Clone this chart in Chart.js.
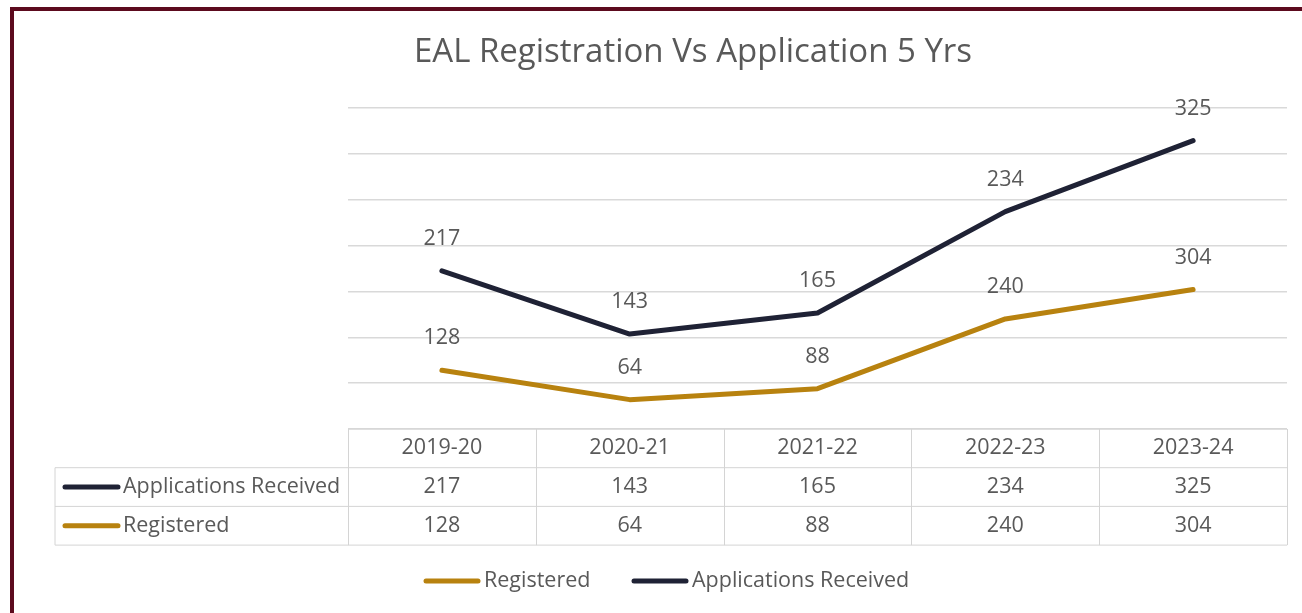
<!DOCTYPE html>
<html>
<head>
<meta charset="utf-8">
<script src="https://cdn.jsdelivr.net/npm/chart.js@4/dist/chart.umd.min.js"></script>
<style>
  html, body { margin:0; padding:0; background:#fff; overflow:hidden; }
  #frame { position:absolute; left:10px; top:7px; width:1400px; height:700px; border:4px solid #5c0a1e; }
  #wrap { position:absolute; left:0; top:0; width:1302px; height:613px; }
</style>
</head>
<body>
<div id="frame"></div>
<div id="wrap"><canvas id="chart"></canvas></div>
<script>
// data
const years = ['2019-20', '2020-21', '2021-22', '2022-23', '2023-24'];
const applications = [217, 143, 165, 234, 325];
const registered = [128, 64, 88, 240, 304];

const NAVY = '#1f2235';
const GOLD = '#b8820f';
const TXT = '#595959';
const FONT = '"Open Sans", sans-serif';

// title, data labels, data table and legend (Excel style)
const extras = {
    id: 'extras',
    afterDatasetsDraw(chart) {
        const ctx = chart.ctx;
        const area = chart.chartArea;
        ctx.save();

        // title
        ctx.fillStyle = TXT;
        ctx.font = '33px ' + FONT;
        ctx.textAlign = 'center';
        ctx.textBaseline = 'middle';
        ctx.fillText('EAL Registration Vs Application 5 Yrs', 693, 53);

        // labels above points (raw values, line is stacked)
        ctx.font = '21.5px ' + FONT;
        chart.data.datasets.forEach((ds, i) => {
            chart.getDatasetMeta(i).data.forEach((pt, j) => {
                ctx.fillText(String(ds.data[j]), pt.x, pt.y - 32);
            });
        });

        // data table
        const colW = (area.right - area.left) / years.length;
        const top = area.bottom, rowH = 38.7, left = 55;
        ctx.strokeStyle = '#d4d4d4';
        ctx.lineWidth = 1;
        ctx.beginPath();
        ctx.moveTo(area.left, top); ctx.lineTo(area.right, top);
        ctx.moveTo(left, top + rowH); ctx.lineTo(area.right, top + rowH);
        ctx.moveTo(left, top + rowH * 2); ctx.lineTo(area.right, top + rowH * 2);
        ctx.moveTo(left, top + rowH * 3); ctx.lineTo(area.right, top + rowH * 3);
        ctx.moveTo(left, top + rowH); ctx.lineTo(left, top + rowH * 3);
        for (let k = 0; k <= years.length; k++) {
            const x = Math.round(area.left + k * colW) + 0.5;
            ctx.moveTo(x, top); ctx.lineTo(x, top + rowH * 3);
        }
        ctx.stroke();

        const rows = [
            { name: 'Applications Received', vals: applications, color: NAVY },
            { name: 'Registered', vals: registered, color: GOLD }
        ];
        ctx.fillStyle = TXT;
        ctx.textAlign = 'center';
        years.forEach((y, k) => ctx.fillText(y, area.left + (k + 0.5) * colW, top + rowH / 2));
        rows.forEach((r, ri) => {
            const cy = top + rowH * (ri + 1.5);
            ctx.strokeStyle = r.color;
            ctx.lineWidth = 5;
            ctx.lineCap = 'round';
            ctx.beginPath();
            ctx.moveTo(65, cy); ctx.lineTo(118, cy);
            ctx.stroke();
            ctx.fillStyle = TXT;
            ctx.textAlign = 'left';
            ctx.fillText(r.name, 123, cy);
            ctx.textAlign = 'center';
            r.vals.forEach((v, k) => ctx.fillText(String(v), area.left + (k + 0.5) * colW, cy));
        });

        // legend
        const leg = [
            { name: 'Registered', color: GOLD, x: 424 },
            { name: 'Applications Received', color: NAVY, x: 632 }
        ];
        leg.forEach(l => {
            ctx.strokeStyle = l.color;
            ctx.lineWidth = 5;
            ctx.lineCap = 'round';
            ctx.beginPath();
            ctx.moveTo(l.x + 2, 581); ctx.lineTo(l.x + 54, 581);
            ctx.stroke();
            ctx.fillStyle = TXT;
            ctx.textAlign = 'left';
            ctx.fillText(l.name, l.x + 60, 581);
        });
        ctx.restore();
    }
};

new Chart(document.getElementById('chart'), {
    type: 'line',
    data: {
        labels: years,
        datasets: [
            { label: 'Registered', data: registered, borderColor: GOLD, backgroundColor: GOLD },
            { label: 'Applications Received', data: applications, borderColor: NAVY, backgroundColor: NAVY }
        ]
    },
    options: {
        responsive: true,
        maintainAspectRatio: false,
        animation: false,
        layout: { padding: { left: 348, right: 15, top: 108, bottom: 184 } },
        elements: {
            line: { borderWidth: 5, tension: 0, borderCapStyle: 'round', borderJoinStyle: 'round', fill: false },
            point: { radius: 0, hoverRadius: 0 }
        },
        plugins: { legend: { display: false }, tooltip: { enabled: false } },
        scales: {
            x: { offset: true, display: false },
            y: {
                stacked: true, min: 0, max: 700,
                ticks: { display: false, stepSize: 100 },
                grid: { color: '#d9d9d9', lineWidth: 1.5, drawTicks: false },
                border: { display: false }
            }
        }
    },
    plugins: [extras]
});
</script>
</body>
</html>
